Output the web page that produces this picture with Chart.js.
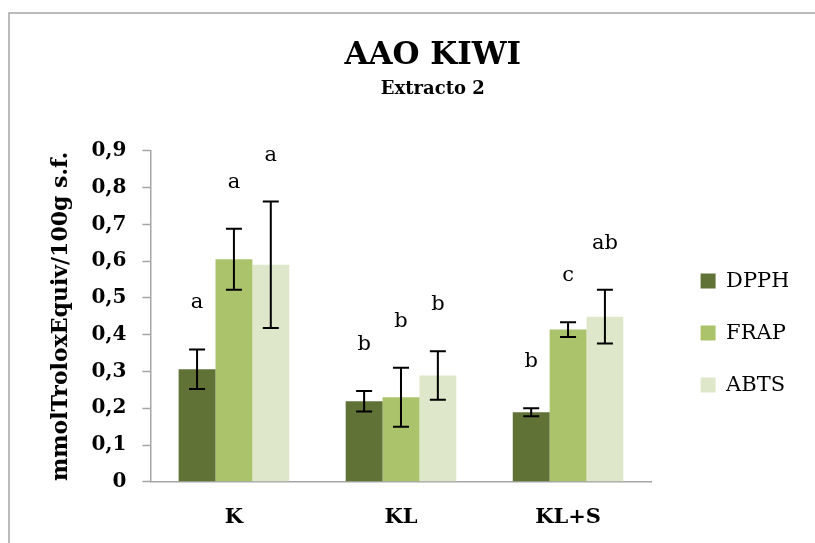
<!DOCTYPE html>
<html>
<head>
<meta charset="utf-8">
<script src="https://cdn.jsdelivr.net/npm/chart.js@4.4.1/dist/chart.umd.min.js"></script>
<style>
  html, body { margin: 0; padding: 0; background: #fff; overflow: hidden; }
  #aaoChart { display: block; }
</style>
</head>
<body>
<canvas id="aaoChart" width="815" height="543"></canvas>
<script>
// data
const categories = ["K", "KL", "KL+S"];
const dpph = [0.306, 0.219, 0.189];
const dpphErr = [0.054, 0.028, 0.011];
const frap = [0.605, 0.230, 0.414];
const frapErr = [0.083, 0.080, 0.020];
const abts = [0.590, 0.289, 0.449];
const abtsErr = [0.172, 0.066, 0.073];
const dpphLetters = ["a", "b", "b"];
const frapLetters = ["a", "b", "c"];
const abtsLetters = ["a", "b", "ab"];
const yTicks = [0, 0.1, 0.2, 0.3, 0.4, 0.5, 0.6, 0.7, 0.8, 0.9];

const serif = "'DejaVu Serif', serif";
const errs = [dpphErr, frapErr, abtsErr];
const letters = [dpphLetters, frapLetters, abtsLetters];

// outer frame of the chart object
const framePlugin = {
  id: "frame",
  beforeDraw(chart) {
    const ctx = chart.ctx;
    ctx.save();
    ctx.strokeStyle = "#a6a6a6";
    ctx.lineWidth = 1.5;
    ctx.strokeRect(9, 13, 900, 700);
    ctx.restore();
  }
};

// error bars + significance letters
const errorBarPlugin = {
  id: "errorBars",
  afterDatasetsDraw(chart) {
    const ctx = chart.ctx;
    const y = chart.scales.y;
    ctx.save();
    chart.data.datasets.forEach((ds, i) => {
      const meta = chart.getDatasetMeta(i);
      meta.data.forEach((bar, j) => {
        const v = ds.data[j];
        const e = errs[i][j];
        const top = y.getPixelForValue(v + e);
        const bot = y.getPixelForValue(v - e);
        ctx.strokeStyle = "#000";
        ctx.lineWidth = 2;
        ctx.beginPath();
        ctx.moveTo(bar.x, top);
        ctx.lineTo(bar.x, bot);
        ctx.moveTo(bar.x - 8, top);
        ctx.lineTo(bar.x + 8, top);
        ctx.moveTo(bar.x - 8, bot);
        ctx.lineTo(bar.x + 8, bot);
        ctx.stroke();

        ctx.fillStyle = "#000";
        ctx.font = "21px " + serif;
        ctx.textAlign = "center";
        ctx.textBaseline = "alphabetic";
        ctx.fillText(letters[i][j], bar.x, top - 41);
      });
    });
    ctx.restore();
  }
};

new Chart(document.getElementById("aaoChart"), {
  type: "bar",
  data: {
    labels: categories,
    datasets: [
      { label: "DPPH", data: dpph, backgroundColor: "#607236" },
      { label: "FRAP", data: frap, backgroundColor: "#abc46c" },
      { label: "ABTS", data: abts, backgroundColor: "#dee7c9" }
    ]
  },
  options: {
    responsive: false,
    animation: false,
    layout: { padding: { left: 77.5, right: 27, top: 0, bottom: -10 } },
    datasets: {
      bar: { barPercentage: 1, categoryPercentage: 0.662, borderWidth: 0 }
    },
    plugins: {
      title: {
        display: true,
        text: "AAO KIWI",
        color: "#000",
        font: { family: serif, size: 31, weight: "bold" },
        padding: { top: 37, bottom: 0 }
      },
      subtitle: {
        display: true,
        text: "Extracto 2",
        color: "#000",
        font: { family: serif, size: 18, weight: "bold" },
        padding: { top: 4, bottom: 51 }
      },
      legend: {
        position: "right",
        title: { display: true, text: "", font: { size: 1 }, padding: { top: 112, bottom: 0 } },
        labels: {
          boxWidth: 15,
          boxHeight: 15,
          padding: 31,
          color: "#000",
          font: { family: serif, size: 21 }
        }
      },
      tooltip: { enabled: false }
    },
    scales: {
      x: {
        grid: { display: false, drawTicks: false },
        border: { display: true, color: "#a6a6a6", width: 1.5 },
        ticks: {
          color: "#000",
          padding: 23,
          font: { family: serif, size: 21, weight: "bold" }
        }
      },
      y: {
        min: 0,
        max: 0.9,
        afterBuildTicks(scale) {
          scale.ticks = yTicks.map(v => ({ value: v }));
        },
        grid: { drawOnChartArea: false, drawTicks: true, tickLength: 8, tickColor: "#a6a6a6", tickWidth: 1.5 },
        border: { display: true, color: "#a6a6a6", width: 1.5 },
        ticks: {
          color: "#000",
          padding: 16,
          font: { family: serif, size: 20, weight: "bold" },
          callback: v => v === 0 ? "0" : v.toFixed(1).replace(".", ",")
        },
        title: {
          display: true,
          text: "mmolTroloxEquiv/100g s.f.",
          color: "#000",
          font: { family: serif, size: 22, weight: "bold" },
          padding: { top: -29.5, bottom: 1.2 }
        }
      },
      y2: {
        position: "right",
        grid: { display: false, drawTicks: false },
        border: { display: false },
        ticks: { display: false },
        afterFit(scale) { scale.width = 18; }
      }
    }
  },
  plugins: [framePlugin, errorBarPlugin]
});
</script>
</body>
</html>
